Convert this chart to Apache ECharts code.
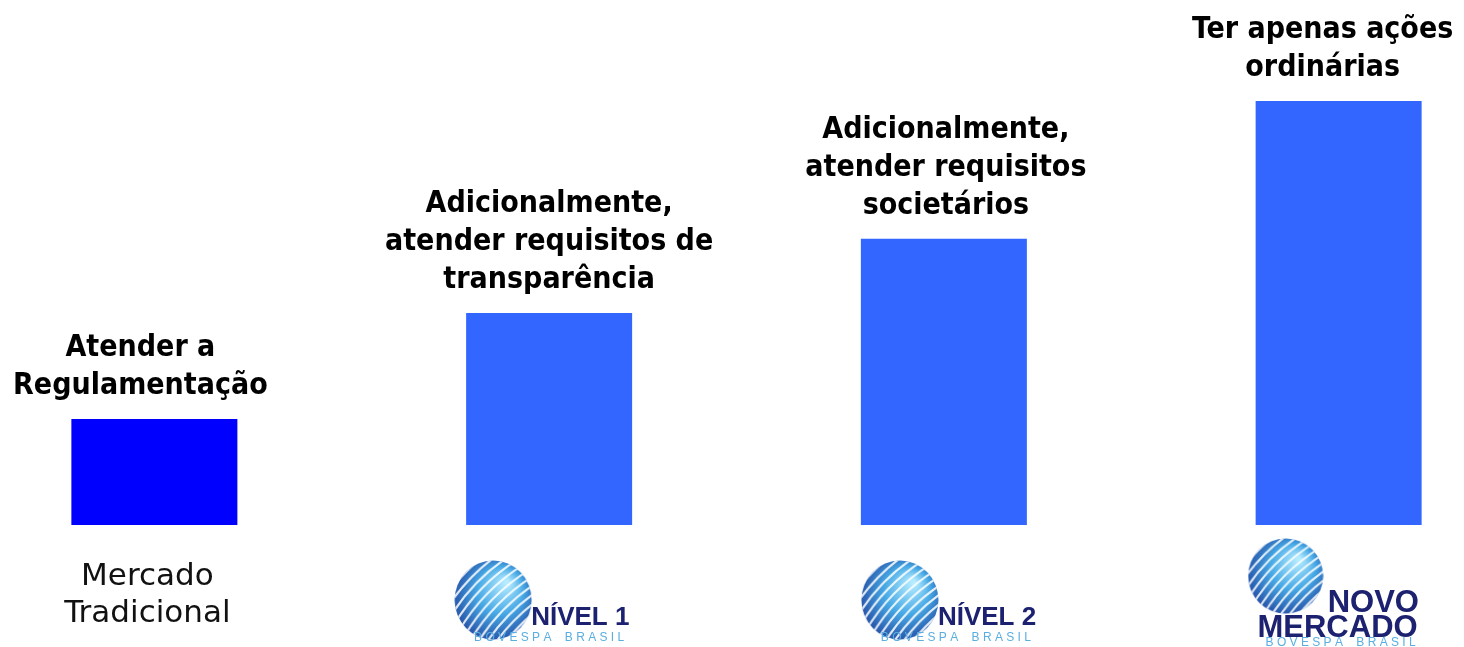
<!DOCTYPE html>
<html>
<head>
<meta charset="utf-8">
<script src="https://cdn.jsdelivr.net/npm/echarts@6/dist/echarts.min.js"></script>
<style>
html, body { margin: 0; background: #fff; }
#main { width: 1464px; height: 647px; }
</style>
</head>
<body>
<div id="main"></div>
<script>
// segmentos de listagem da Bovespa
const categories = ['Mercado Tradicional', 'Nível 1', 'Nível 2', 'Novo Mercado'];
const levels = [1, 2, 2.7, 4];
const requirements = [
    'Atender a\nRegulamentação',
    'Adicionalmente,\natender requisitos de\ntransparência',
    'Adicionalmente,\natender requisitos\nsocietários',
    'Ter apenas ações\nordinárias'
];
const logoTitles = [null, 'NÍVEL 1', 'NÍVEL 2', 'NOVO MERCADO'];
const logoSubtitle = 'B O V E S P A    B R A S I L';

const barColors = ['#0000ff', '#3366ff', '#3366ff', '#3366ff'];
const labelFont = "'DejaVu Sans Condensed', 'DejaVu Sans', sans-serif";
const labelNudge = [-14, 0, 2, -16];

// globo listrado desenhado num canvas
function makeGlobe(size) {
    const c = document.createElement('canvas');
    c.width = c.height = size;
    const g = c.getContext('2d');
    const r = size / 2;
    g.beginPath();
    g.arc(r, r, r - 0.5, 0, Math.PI * 2);
    g.clip();
    const grad = g.createRadialGradient(r * 1.35, r * 0.55, 2, r, r, r * 1.25);
    grad.addColorStop(0, '#b5ecff');
    grad.addColorStop(0.45, '#46a9e6');
    grad.addColorStop(1, '#1c3795');
    g.fillStyle = grad;
    g.fillRect(0, 0, size, size);
    g.translate(r, r);
    g.rotate(-Math.PI / 4);
    g.strokeStyle = 'rgba(255,255,255,0.85)';
    g.lineWidth = 2.2;
    for (let k = -5; k <= 6; k++) {
        const y = k * r / 5.2;
        g.beginPath();
        g.moveTo(-r * 1.2, y + 5);
        g.quadraticCurveTo(0, y - 7, r * 1.2, y + 5);
        g.stroke();
    }
    return c;
}

const chart = echarts.init(document.getElementById('main'));
chart.setOption({
    animation: false,
    grid: { left: -43, width: 1579, top: 101, bottom: 122, outerBoundsMode: 'none' },
    xAxis: {
        type: 'category',
        data: categories,
        axisLine: { show: false },
        axisTick: { show: false },
        axisLabel: {
            margin: 33,
            interval: 0,
            padding: [0, 14, 0, 0],
            formatter: (v, i) => i === 0 ? 'Mercado\nTradicional' : '',
            fontFamily: "'DejaVu Sans', sans-serif",
            fontSize: 31,
            lineHeight: 37,
            color: '#111'
        }
    },
    yAxis: { type: 'value', min: 0, max: 4, show: false, splitLine: { show: false } },
    series: [{
        type: 'bar',
        barWidth: 166,
        data: levels.map((v, i) => ({
            value: v,
            itemStyle: { color: barColors[i] },
            label: { offset: [labelNudge[i], 0] }
        })),
        label: {
            show: true,
            position: 'top',
            distance: 14,
            formatter: p => requirements[p.dataIndex],
            fontFamily: labelFont,
            fontWeight: 'bold',
            fontSize: 30,
            lineHeight: 38,
            color: '#000'
        }
    }]
});

// logotipos abaixo das barras
const globe = makeGlobe(80);
const navy = '#1c2270';
const lightBlue = '#5aaee0';
const logoFont = "'Liberation Sans', Arial, sans-serif";
const logoShift = [0, 0, 12, -5];
const graphics = [];
categories.forEach((name, i) => {
    if (!logoTitles[i]) return;
    const cx = chart.convertToPixel({ xAxisIndex: 0 }, name) + logoShift[i];
    if (i < 3) {
        graphics.push(
            { type: 'image', left: cx - 95, top: 560, style: { image: globe, width: 78, height: 80 } },
            { type: 'text', x: cx - 18, y: 631, style: { text: logoTitles[i], font: 'bold 26px ' + logoFont, fill: navy, textAlign: 'left', textVerticalAlign: 'bottom' } },
            { type: 'text', x: cx, y: 638, style: { text: logoSubtitle, font: '12px ' + logoFont, fill: lightBlue, textAlign: 'center', textVerticalAlign: 'middle' } }
        );
    } else {
        const words = logoTitles[i].split(' ');
        graphics.push(
            { type: 'image', left: cx - 86, top: 538, style: { image: globe, width: 76, height: 76 } },
            { type: 'text', x: cx - 6, y: 619, style: { text: words[0], font: 'bold 31px ' + logoFont, fill: navy, textAlign: 'left', textVerticalAlign: 'bottom' } },
            { type: 'text', x: cx + 84, y: 644, style: { text: words[1], font: 'bold 31px ' + logoFont, fill: navy, textAlign: 'right', textVerticalAlign: 'bottom' } },
            { type: 'text', x: cx + 7, y: 643, style: { text: logoSubtitle, font: '12px ' + logoFont, fill: lightBlue, textAlign: 'center', textVerticalAlign: 'middle' } }
        );
    }
});
chart.setOption({ graphic: graphics });
</script>
</body>
</html>
